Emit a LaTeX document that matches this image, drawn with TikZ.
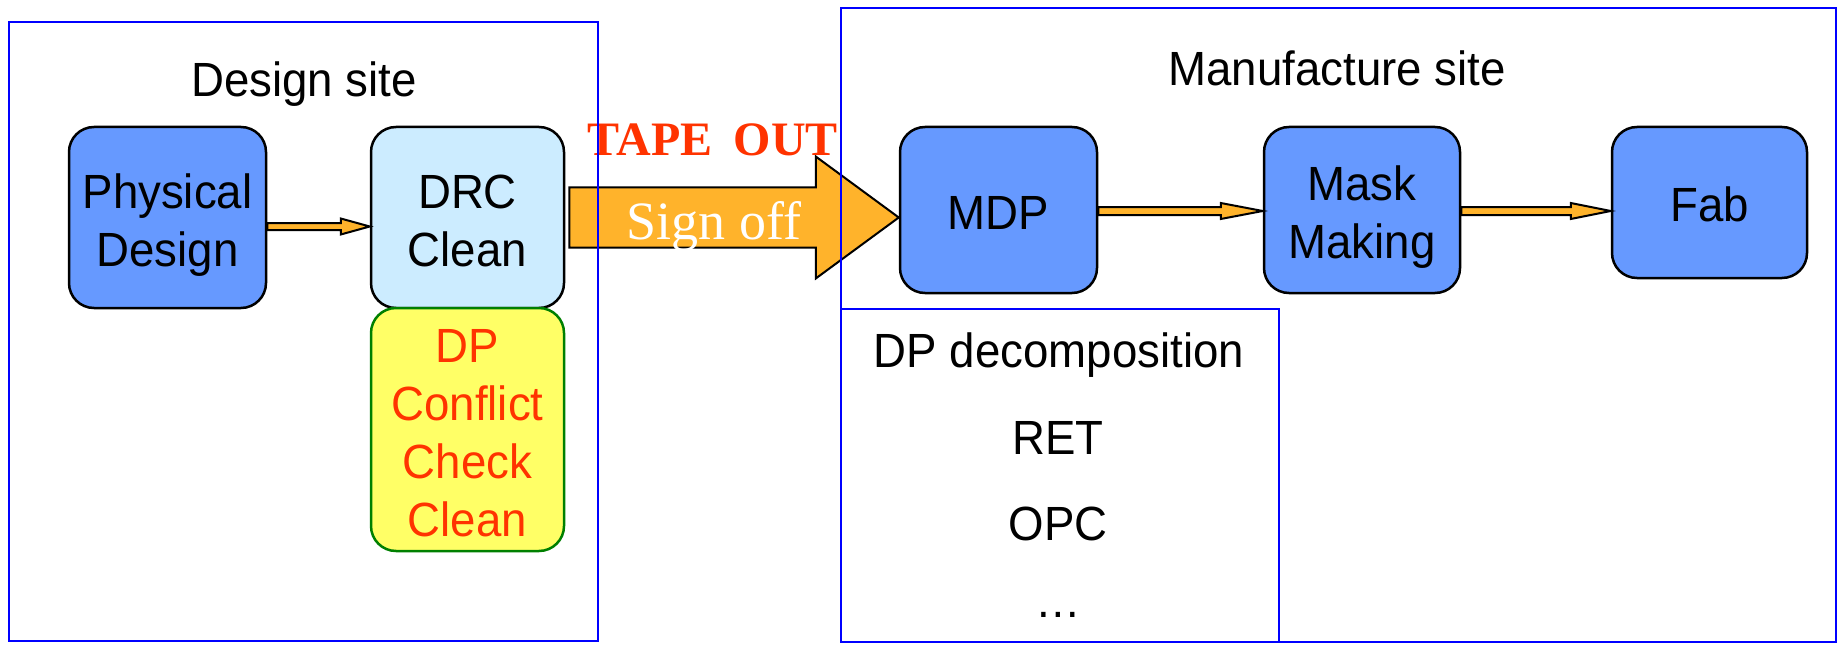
\documentclass[tikz,border=0pt]{standalone}
\usepackage{fontspec}
\setmainfont[FakeStretch=0.95]{Liberation Sans}
\newfontfamily\timesf{Liberation Serif}
\usetikzlibrary{calc}
\definecolor{procblue}{HTML}{6699FF}
\definecolor{drcblue}{HTML}{CCECFF}
\definecolor{dpyellow}{HTML}{FFFF66}
\definecolor{dpgreen}{HTML}{008000}
\definecolor{redtxt}{HTML}{FF3300}
\definecolor{arrorange}{HTML}{FFB32B}
\definecolor{frameblue}{HTML}{0000FF}
\newcommand\strtop{\rule{0pt}{52pt}}
\newcommand\strbot{\rule[-13pt]{0pt}{13pt}}
% #1 start, #2 end, #3 shaft half, #4 head half, #5 head length
\newcommand\flowarrow[5]{%
  \draw[flowarr] let \p1=(#1), \p2=(#2) in
    (\x1,\y1+#3) -- (\x2-#5,\y1+#3) -- (\x2-#5,\y1+#4) -- (\x2,\y1)
    -- (\x2-#5,\y1-#4) -- (\x2-#5,\y1-#3) -- (\x1,\y1-#3) -- cycle;}
\begin{document}
\begin{tikzpicture}[x=1pt,y=-1pt,
  proc/.style={draw=black, line width=2.5pt, rounded corners=25pt, fill=procblue,
    align=center, inner sep=0pt, text=black, font=\fontsize{48}{58}\selectfont},
  flowarr/.style={draw=black, line width=2pt, fill=arrorange, line join=miter},
  frame/.style={draw=frameblue, line width=2pt},
  label/.style={inner sep=0pt, anchor=base, font=\fontsize{48}{58}\selectfont}]
\useasboundingbox (0,0) rectangle (1843,647);
\fill[white] (0,0) rectangle (1843,647);

% design site
\node[proc, minimum width=197pt, minimum height=181pt] (pd) at (167.5,217.5) {\strtop Physical\\Design\strbot};
\node[proc, fill=drcblue, minimum width=193pt, minimum height=181pt] (drc) at (467.5,217.5) {\strtop DRC\\Clean\strbot};
\node[proc, fill=dpyellow, draw=dpgreen, text=redtxt, minimum width=193pt, minimum height=243pt] (dp) at (467.5,429.5) {\strtop DP\\Conflict\\Check\\Clean\strbot};
\node[label] (dsite) at (304,97) {Design site};

% manufacture site
\node[proc, minimum width=197pt, minimum height=166pt] (mdp) at (998.5,210) {\strtop MDP\strbot};
\node[proc, minimum width=196pt, minimum height=166pt] (mask) at (1362,210) {\strtop Mask\\Making\strbot};
\node[proc, minimum width=195pt, minimum height=151pt] (fab) at (1709.5,202.5) {\strtop Fab\strbot};
\node[label] (msite) at (1337,86) {Manufacture site};

\node[label] (dpd) at (1059,367) {DP decomposition};
\node[label] (ret) at (1058,454) {RET};
\node[label] (opc) at (1058,540) {OPC};
\node[label] (dots) at (1058,617) {…};

% arrows
\flowarrow{[yshift=-9pt]pd.east}{[yshift=-9pt]drc.west}{3.5pt}{8pt}{29pt}
\flowarrow{[yshift=-1pt]mdp.east}{[yshift=-1pt]mask.west}{4pt}{8pt}{42pt}
\flowarrow{[yshift=-1pt]mask.east}{[yshift=-1pt]fab.west}{4pt}{8pt}{40pt}

% big tape-out arrow
\draw[flowarr] let \p1=(drc.east), \p2=(mdp.west) in
  (\x1+4pt,\y1+30pt) -- (\x2-83pt,\y1+30pt) -- (\x2-83pt,\y1+61pt) -- (\x2,\y1)
  -- (\x2-83pt,\y1-61pt) -- (\x2-83pt,\y1-30pt) -- (\x1+4pt,\y1-30pt) -- cycle;
\node[inner sep=0pt, anchor=base, text=white, font=\timesf\fontsize{54}{60}\selectfont] (signoff) at (714,239) {Sign off};
\node[inner sep=0pt, anchor=base, text=redtxt, font=\timesf\bfseries\fontsize{48}{56}\selectfont] (tape) at (713,156) {TAPE\hspace{0.45em}OUT};

% frames
\draw[frame] (9,22) rectangle (598,641);
\draw[frame] (841,8) rectangle (1836,642);
\draw[frame] (841,309) rectangle (1279,642);
\end{tikzpicture}
\end{document}
